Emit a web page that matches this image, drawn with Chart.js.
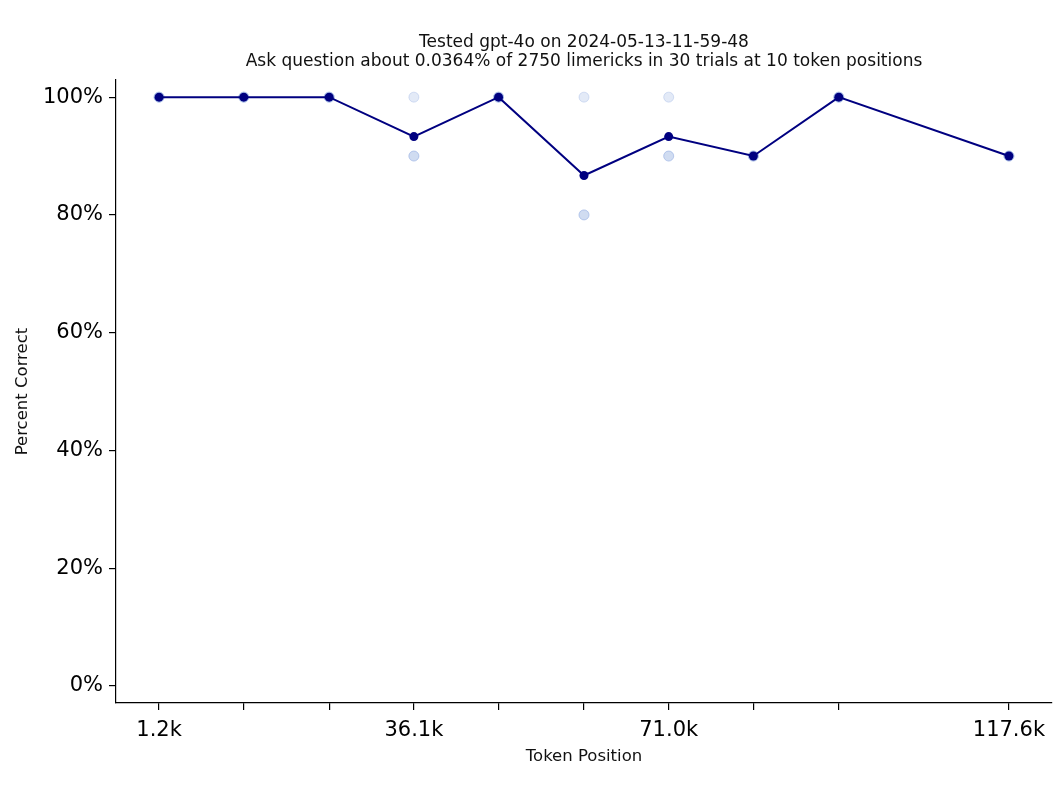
<!DOCTYPE html>
<html>
<head>
<meta charset="utf-8">
<script src="https://cdn.jsdelivr.net/npm/chart.js@4"></script>
<style>
  html, body { margin: 0; padding: 0; background: #fff; }
  #wrap { width: 1061px; height: 787px; }
</style>
</head>
<body>
<div id="wrap"><canvas id="chart"></canvas></div>
<script>
// token positions (in thousands) where the question was asked
const positions = [1.2, 12.8, 24.5, 36.1, 47.7, 59.4, 71.0, 82.6, 94.3, 117.6];
// mean percent correct at each position
const meanCorrect = [100, 100, 100, 93.3, 100, 86.7, 93.3, 90, 100, 90];
// individual trial scores (3 trials per position)
const trialA = [100, 100, 100, 100, 100, 100, 100, 90, 100, 90];
const trialB = [100, 100, 100, 90, 100, 80, 90, 90, 100, 90];
const trialC = [100, 100, 100, 90, 100, 80, 90, 90, 100, 90];
// which tick labels are shown
const shownLabels = ['1.2k', '', '', '36.1k', '', '', '71.0k', '', '', '117.6k'];
const yTicks = [0, 20, 40, 60, 80, 100];

const titleLines = [
    'Tested gpt-4o on 2024-05-13-11-59-48',
    'Ask question about 0.0364% of 2750 limericks in 30 trials at 10 token positions'
];

function toPoints(values){
    let pts = [];
    for(let i in values){
        pts.push({x: positions[i], y: values[i]});
    }
    return pts;
}

let trialPoints = toPoints(trialA).concat(toPoints(trialB), toPoints(trialC));

const FONT = 'DejaVu Sans';
const ink = '#000';

var ctx = document.getElementById('chart').getContext('2d');
var chart = new Chart(ctx, {
    type: 'scatter',
    data: {
        datasets: [{
            // mean line
            type: 'line',
            data: toPoints(meanCorrect),
            borderColor: '#000080',
            backgroundColor: '#000080',
            borderWidth: 2,
            pointRadius: 4.5,
            pointBorderWidth: 0,
            pointBackgroundColor: '#000080',
            tension: 0,
            order: 1
        }, {
            // individual trials
            data: trialPoints,
            pointRadius: 5,
            pointBorderWidth: 1,
            pointBackgroundColor: 'rgba(176,196,232,0.35)',
            pointBorderColor: 'rgba(150,175,225,0.35)',
            order: 2
        }]
    },
    options: {
        responsive: true,
        maintainAspectRatio: false,
        animation: false,
        layout: { padding: { left: 0, right: 9, top: 0, bottom: 0 } },
        plugins: {
            legend: { display: false },
            tooltip: { enabled: false },
            title: {
                display: true,
                fullSize: false, // centre over the plot area, like matplotlib
                text: titleLines,
                color: '#111',
                font: { family: FONT, size: 17, weight: 'normal', lineHeight: 1.12 },
                padding: { top: 33, bottom: 9 }
            }
        },
        scales: {
            x: {
                type: 'linear',
                min: -4.7,
                max: 123.5,
                afterBuildTicks: (scale) => {
                    scale.ticks = positions.map(v => ({ value: v }));
                },
                afterFit: (scale) => { scale.height = 84; },
                ticks: {
                    autoSkip: false,
                    maxRotation: 0,
                    color: ink,
                    padding: 8,
                    font: { family: FONT, size: 21 },
                    callback: (value, index) => shownLabels[index]
                },
                grid: {
                    drawOnChartArea: false,
                    drawTicks: true,
                    tickLength: 7,
                    color: ink,
                    lineWidth: 1.2
                },
                border: { display: true, color: ink, width: 1.2 },
                title: {
                    display: true,
                    text: 'Token Position',
                    color: '#111',
                    font: { family: FONT, size: 16.5 },
                    padding: { top: 0, bottom: 20 }
                }
            },
            y: {
                min: -2.9,
                max: 102.9,
                afterBuildTicks: (scale) => {
                    scale.ticks = yTicks.map(v => ({ value: v }));
                },
                afterFit: (scale) => { scale.width = 116; },
                ticks: {
                    color: ink,
                    padding: 6,
                    font: { family: FONT, size: 21 },
                    callback: (value) => value + '%'
                },
                grid: {
                    drawOnChartArea: false,
                    drawTicks: true,
                    tickLength: 7,
                    color: ink,
                    lineWidth: 1.2
                },
                border: { display: true, color: ink, width: 1.2 },
                title: {
                    display: true,
                    text: 'Percent Correct',
                    color: '#111',
                    font: { family: FONT, size: 16.5 },
                    padding: { top: 13, bottom: 0 }
                }
            }
        }
    }
});
</script>
</body>
</html>
